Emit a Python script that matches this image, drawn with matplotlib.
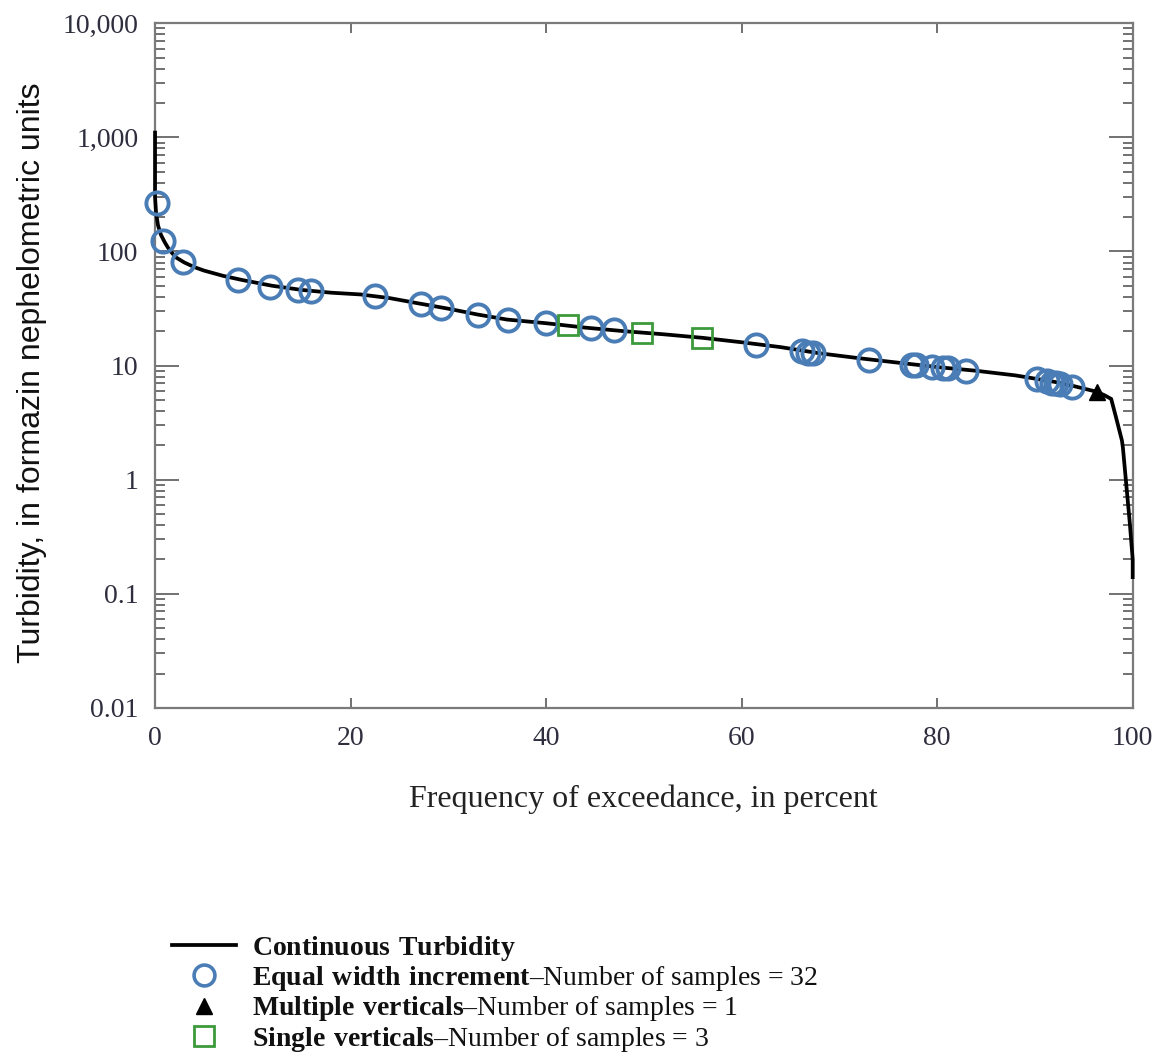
import matplotlib
matplotlib.use("Agg")
import matplotlib.pyplot as plt
from matplotlib.lines import Line2D
from matplotlib.ticker import LogLocator, NullFormatter, NullLocator

plt.rcParams['mathtext.fontset'] = 'custom'
plt.rcParams['mathtext.rm'] = 'Liberation Serif'
plt.rcParams['mathtext.bf'] = 'Liberation Serif:bold'

# ---- data ----
line_x = [0, 0, 0.1, 0.3, 0.6, 1.0, 1.5, 2.2, 3.0, 4.0, 5.0, 7.0, 9.0, 12, 15, 18, 21, 24, 27, 30,
          33, 36, 40, 44, 48, 52, 56, 60, 64, 68, 72, 76, 80, 84, 88, 92, 94, 96.3, 97.1, 97.8,
          98.3, 98.9, 99.0, 99.4, 99.7, 100, 100]
line_y = [1100, 300, 220, 170, 140, 120, 102, 88, 80, 73, 68, 61, 56, 50, 46, 43.5, 42, 39, 35, 31.5,
          28, 25.3, 23.5, 21.5, 20, 18.8, 17.5, 16, 14.5, 12.8, 11.6, 10.6, 9.7, 9.0, 8.2, 7.2, 6.6,
          5.9, 5.5, 5.1, 3.5, 2.2, 1.9, 0.8, 0.42, 0.2, 0.14]

ewi_x = [0.2, 0.8, 2.9, 8.5, 11.8, 14.6, 16.0, 22.5, 27.2, 29.3, 33.0, 36.1, 40.0, 44.6, 46.9,
         61.5, 66.2, 66.8, 67.3, 73.0, 77.4, 77.8, 79.5, 80.6, 81.1, 83.0, 90.2, 91.2, 91.7, 92.2,
         92.6, 93.8]
ewi_y = [265, 123, 81, 56, 49, 46, 45, 41, 34.6, 32, 27.7, 25, 23.6, 21.3, 20.5,
         15.1, 13.3, 13.0, 12.8, 11.2, 10.2, 10.1, 9.8, 9.6, 9.5, 9.0, 7.6, 7.3, 7.1, 7.0,
         6.9, 6.5]

mv_x = [96.3]
mv_y = [5.9]

sv_x = [42.2, 49.8, 55.9]
sv_y = [22.7, 19.3, 17.5]

yticks = [0.01, 0.1, 1, 10, 100, 1000, 10000]
ytick_labels = ["0.01", "0.1", "1", "10", "100", "1,000", "10,000"]
xticks = [0, 20, 40, 60, 80, 100]
xtick_labels = ["0", "20", "40", "60", "80", "100"]

# ---- figure ----
fig = plt.figure(figsize=(11.57, 10.55), dpi=100)
ax = fig.add_axes([0.134, 0.329, 0.845, 0.649])

blue = '#4a7db5'
green = '#3c9a3c'
tick_col = '#2e2e3e'
spine_col = '#7a7a7a'

ax.plot(line_x, line_y, color='black', lw=2.7, zorder=3, clip_on=False, solid_joinstyle='round')
ax.plot(ewi_x, ewi_y, ls='none', marker='o', ms=16, mfc='none', mec=blue, mew=2.8, zorder=4,
        clip_on=False)
ax.plot(sv_x, sv_y, ls='none', marker='s', ms=14.5, mfc='none', mec=green, mew=2.0, zorder=4)
ax.plot(mv_x, mv_y, ls='none', marker='^', ms=11, color='black', zorder=5)

ax.set_yscale('log')
ax.set_xlim(0, 100)
ax.set_ylim(0.01, 10000)

ax.set_yticks(yticks)
ax.set_yticklabels(ytick_labels)
ax.yaxis.set_minor_locator(LogLocator(base=10, subs=range(2, 10), numticks=20))
ax.yaxis.set_minor_formatter(NullFormatter())
ax.set_xticks(xticks)
ax.set_xticklabels(xtick_labels)
ax.xaxis.set_minor_locator(NullLocator())

for s in ax.spines.values():
    s.set_color(spine_col)
    s.set_linewidth(1.6)

ax.tick_params(axis='y', which='major', direction='in', length=17, width=1.3, color='#666666',
               left=True, right=True, labelsize=20, labelcolor=tick_col, pad=12)
ax.tick_params(axis='y', which='minor', direction='in', length=7.5, width=1.3, color='#666666',
               left=True, right=True)
ax.tick_params(axis='x', which='major', direction='in', length=7.5, width=1.3, color='#666666',
               bottom=True, top=True, labelsize=20, labelcolor=tick_col, pad=13)

for lab in ax.get_xticklabels() + ax.get_yticklabels():
    lab.set_fontfamily('Liberation Serif')

ax.set_ylabel('Turbidity, in formazin nephelometric units', fontsize=23,
              fontfamily='Liberation Sans', color='#111111')
ax.yaxis.set_label_coords(-0.111, 0.49)
ax.set_xlabel('Frequency of exceedance, in percent', fontsize=23,
              fontfamily='Liberation Serif', color='#222222', labelpad=24)

# ---- legend ----
handles = [
    Line2D([], [], color='black', lw=2.7),
    Line2D([], [], ls='none', marker='o', ms=15, mfc='none', mec=blue, mew=2.6),
    Line2D([], [], ls='none', marker='^', ms=11, color='black'),
    Line2D([], [], ls='none', marker='s', ms=14, mfc='none', mec=green, mew=2.0),
]
labels = [
    r'$\mathbf{Continuous\ Turbidity}$',
    r'$\mathbf{Equal\ width\ increment}$–Number of samples = 32',
    r'$\mathbf{Multiple\ verticals}$–Number of samples = 1',
    r'$\mathbf{Single\ verticals}$–Number of samples = 3',
]
leg = fig.legend(handles, labels, loc='upper left', bbox_to_anchor=(0.149, 0.115),
                 bbox_transform=fig.transFigure, frameon=False,
                 prop={'family': 'Liberation Serif', 'size': 20},
                 handlelength=2.3, handletextpad=0.55, labelspacing=0.05, borderaxespad=0,
                 borderpad=0)
for t in leg.get_texts():
    t.set_color('#111111')

fig.savefig('out.png', dpi=100)
